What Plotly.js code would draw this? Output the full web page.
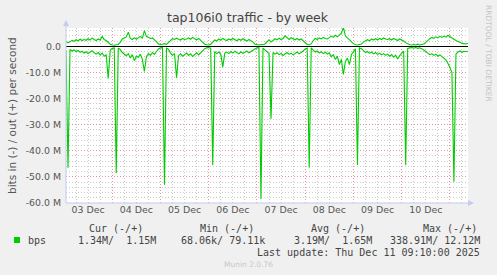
<!DOCTYPE html>
<html><head><meta charset="utf-8">
<script src="https://cdn.plot.ly/plotly-3.0.1.min.js"></script>
<style>html,body{margin:0;padding:0;background:#F0F0F0;} #chart{width:497px;height:275px;}</style>
</head><body><div id="chart"></div>
<script>
// hourly samples starting at this time (UTC)
const startTime = '2025-12-03T01:00:00Z';
const rangeStart = '2025-12-03 01:00';
const rangeEnd = '2025-12-11 09:00';

// out (+) traffic, Mbit/s
const outM = [
 2.0, 1.3, 1.7, 2.3, 1.9, 2.5, 2.1, 2.7, 2.2, 2.6,
 2.3, 2.9, 2.4, 3.2, 2.6, 2.2, 2.8, 2.4, 3.8, 2.6,
 2.2, 1.5, 0.8, 0.5, 0.4, 0.6, 0.7, 1.5, 2.8, 3.2,
 3.6, 5.4, 3.0, 2.6, 3.3, 2.7, 3.1, 3.8, 3.0, 6.0,
 3.8, 3.4, 3.0, 3.2, 2.6, 1.8, 0.9, 0.7, 0.8, 1.0,
 0.7, 1.4, 2.4, 2.9, 2.6, 3.1, 2.7, 2.4, 3.0, 2.6,
 2.8, 3.2, 2.7, 3.4, 2.9, 2.5, 3.0, 2.2, 1.5, 0.8,
 0.6, 0.5, 0.8, 1.5, 2.4, 2.0, 2.8, 2.3, 3.0, 2.5,
 2.2, 2.8, 2.4, 3.0, 2.6, 2.1, 2.7, 2.3, 2.9, 2.4,
 2.0, 2.6, 2.2, 1.6, 0.8, 0.6, 0.5, 0.7, 0.6, 0.9,
 1.8, 2.5, 1.6, 2.4, 2.9, 2.5, 3.1, 2.6, 3.0, 4.0,
 3.1, 2.6, 3.3, 2.8, 2.5, 3.0, 2.4, 2.8, 2.1, 1.2,
 0.7, 0.6, 0.9, 2.2, 3.0, 2.6, 3.2, 2.8, 3.4, 3.0,
 2.8, 3.3, 3.9, 3.4, 4.2, 3.6, 4.4, 5.0, 7.2, 4.0,
 3.2, 2.4, 2.0, 1.0, 0.6, 0.5, 0.7, 0.9, 1.6, 2.2,
 2.5, 2.1, 2.8, 2.4, 2.9, 2.5, 3.0, 2.6, 3.2, 2.8,
 2.6, 2.9, 2.4, 3.0, 2.7, 2.2, 2.8, 2.5, 2.0, 1.4,
 0.9, 0.6, 0.5, 0.7, 0.5, 0.8, 0.5, 0.6, 0.9, 1.5,
 2.3, 2.9, 3.4, 3.0, 3.6, 3.2, 3.8, 3.4, 3.9, 3.5,
 4.2, 3.6, 3.1, 2.7, 2.2, 1.8, 1.5, 1.2, 1.0, 0.9,
 1.2
];
// in (-) traffic, Mbit/s, drawn negative
const inM = [
 -1.5, -46.5, -1.2, -1.8, -1.4, -2.0, -1.6, -2.3, -1.9, -2.6,
 -2.1, -2.8, -2.2, -1.7, -2.5, -3.0, -2.4, -3.3, -2.6, -3.8,
 -3.2, -12.3, -1.5, -0.8, -0.6, -48.5, -0.7, -1.2, -2.4, -3.0,
 -3.6, -2.8, -4.5, -3.2, -5.5, -3.8, -4.2, -3.0, -5.0, -9.6,
 -4.0, -2.8, -3.5, -2.4, -3.1, -2.0, -1.0, -0.6, -0.5, -53.0,
 -0.6, -1.2, -2.6, -3.4, -2.8, -12.0, -3.6, -2.9, -3.8, -3.2,
 -2.6, -3.5, -2.9, -3.9, -3.1, -2.5, -3.3, -2.4, -1.6, -0.9,
 -0.6, -0.5, -0.7, -45.4, -2.0, -2.8, -2.2, -3.0, -8.0, -2.6,
 -2.2, -2.8, -2.0, -2.6, -1.9, -2.4, -2.9, -2.1, -2.7, -2.3,
 -1.8, -2.5, -2.0, -1.4, -0.8, -0.6, -0.5, -58.5, -0.7, -1.5,
 -2.0, -2.8, -27.7, -2.4, -3.0, -2.5, -3.2, -2.7, -3.5, -2.9,
 -2.4, -3.1, -2.6, -3.3, -2.7, -2.2, -2.9, -2.4, -1.8, -1.0,
 -0.7, -46.5, -0.6, -1.5, -2.2, -1.8, -2.6, -2.0, -2.8, -2.3,
 -3.0, -2.5, -4.0, -3.2, -5.0, -3.8, -7.0, -5.0, -10.8, -5.8,
 -4.5, -7.0, -3.2, -2.0, -1.0, -45.4, -0.6, -0.9, -1.8, -2.4,
 -2.0, -2.7, -2.2, -2.9, -2.4, -3.1, -2.6, -3.3, -2.8, -3.5,
 -3.0, -3.8, -3.2, -4.2, -3.4, -4.9, -3.6, -2.8, -1.8, -45.4,
 -0.8, -0.6, -0.5, -0.7, -0.5, -0.8, -0.6, -0.9, -1.3, -2.0,
 -2.6, -3.2, -2.8, -3.5, -3.0, -3.8, -3.3, -4.0, -4.6, -5.2,
 -6.5, -8.0, -10.0, -51.9, -3.0, -2.2, -1.8, -2.3, -1.9, -2.1,
 -1.9
];

const yTickVals = [0, -10, -20, -30, -40, -50, -60];
const yTickText = ['0.0', '-10.0 M', '-20.0 M', '-30.0 M', '-40.0 M', '-50.0 M', '-60.0 M'];
const statHeaders = ['Cur (-/+)', 'Min (-/+)', 'Avg (-/+)', 'Max (-/+)'];
const statValues = ['1.34M/  1.15M', '68.06k/ 79.11k', '3.19M/  1.65M', '338.91M/ 12.12M'];
const seriesName = 'bps';
const chartTitle = 'tap106i0 traffic - by week';
const yTitle = 'bits in (-) / out (+) per second';
const sideText = 'RRDTOOL / TOBI OETIKER';
const lastUpdate = 'Last update: Thu Dec 11 09:10:00 2025';
const footer = 'Munin 2.0.76';

const t0 = Date.parse(startTime);
const times = outM.map((_, i) => new Date(t0 + i * 3600000).toISOString().slice(0, 16).replace('T', ' '));

const L = 66, R = 468, T = 28, B = 203, W = 497, H = 275;
const px = x => (x - L) / (R - L);
const py = y => (B - y) / (B - T);

const green = '#00CC00';
const traces = [
  {x: times, y: inM, type: 'scatter', mode: 'lines', line: {color: green, width: 1.1}, hoverinfo: 'skip', showlegend: false},
  {x: times, y: outM, type: 'scatter', mode: 'lines', line: {color: green, width: 1.1}, hoverinfo: 'skip', showlegend: false}
];

const sans = 'DejaVu Sans, sans-serif';
const mono = 'DejaVu Sans Mono, monospace';
const ann = [];
function addText(text, x, y, opts) {
  ann.push(Object.assign({text: text, x: px(x), y: py(y), xref: 'paper', yref: 'paper', showarrow: false,
    xanchor: 'center', yanchor: 'middle', font: {family: sans, size: 10, color: '#444'}}, opts || {}));
}
addText(chartTitle, 248, 18, {font: {family: sans, size: 12.5, color: '#444'}});
addText(yTitle, 12, 116, {textangle: -90, font: {family: sans, size: 10.5, color: '#555'}});
addText(sideText, 489, 53, {textangle: 90, font: {family: sans, size: 7.5, color: '#c4c4c4'}});
const headerX = [116, 227, 338, 449.5];
statHeaders.forEach((h, i) => addText(h, headerX[i], 228, {font: {family: mono, size: 10, color: '#444'}}));
addText(seriesName, 26, 240, {xanchor: 'left', font: {family: mono, size: 10, color: '#444'}});
const valueEnd = [158, 267, 374, 482];
statValues.forEach((v, i) => addText(v.replace(/ /g, '\u00a0'), valueEnd[i], 240, {xanchor: 'right', font: {family: mono, size: 10, color: '#444'}}));
addText(lastUpdate.replace(/ /g, '\u00a0'), 482, 252, {xanchor: 'right', font: {family: mono, size: 10, color: '#444'}});
addText(footer, 248, 264, {font: {family: sans, size: 7.5, color: '#c8c8c8'}});

const axisBlue = '#c4caf0';
const shapes = [
  {type: 'rect', xref: 'paper', yref: 'paper', x0: px(14), x1: px(20), y0: py(243), y1: py(237), fillcolor: green, line: {width: 0}},
  {type: 'line', xref: 'paper', yref: 'paper', x0: px(66), x1: px(66), y0: py(203), y1: py(23), line: {color: axisBlue, width: 1}},
  {type: 'line', xref: 'paper', yref: 'paper', x0: px(66), x1: px(470), y0: py(203), y1: py(203), line: {color: axisBlue, width: 1}},
  {type: 'path', xref: 'paper', yref: 'paper', path: `M ${px(63)},${py(26)} L ${px(69)},${py(26)} L ${px(66)},${py(20)} Z`, fillcolor: axisBlue, line: {width: 0}},
  {type: 'path', xref: 'paper', yref: 'paper', path: `M ${px(468)},${py(200)} L ${px(468)},${py(206)} L ${px(474)},${py(203)} Z`, fillcolor: axisBlue, line: {width: 0}}
];

const majorGrid = '#E49494', minorGrid = '#CACACA', gdash = '1px,2px';
const layout = {
  width: W, height: H,
  margin: {l: L, r: W - R, t: T, b: H - B, pad: 0},
  paper_bgcolor: '#F0F0F0', plot_bgcolor: '#FFFFFF',
  showlegend: false,
  xaxis: {
    type: 'date', range: [rangeStart, rangeEnd],
    tick0: '2025-12-03', dtick: 86400000, ticklabelmode: 'period', tickformat: '%d %b',
    showgrid: true, gridcolor: majorGrid, griddash: gdash, gridwidth: 1,
    minor: {dtick: 6 * 3600000, showgrid: true, gridcolor: minorGrid, griddash: gdash, gridwidth: 1},
    ticks: '', showline: false, zeroline: false,
    tickfont: {family: sans, size: 9.4, color: '#555'}, fixedrange: true
  },
  yaxis: {
    range: [-60, 7], tickmode: 'array', tickvals: yTickVals, ticktext: yTickText,
    showgrid: true, gridcolor: majorGrid, griddash: gdash, gridwidth: 1,
    minor: {tickmode: 'linear', tick0: 0, dtick: 2, showgrid: true, gridcolor: minorGrid, griddash: gdash, gridwidth: 1},
    zeroline: true, zerolinecolor: '#000000', zerolinewidth: 1,
    ticks: '', showline: false, ticklabelstandoff: 4,
    tickfont: {family: sans, size: 9.4, color: '#555'}, fixedrange: true
  },
  annotations: ann,
  shapes: shapes
};

Plotly.newPlot('chart', traces, layout, {staticPlot: true, displayModeBar: false});
</script>
</body></html>
